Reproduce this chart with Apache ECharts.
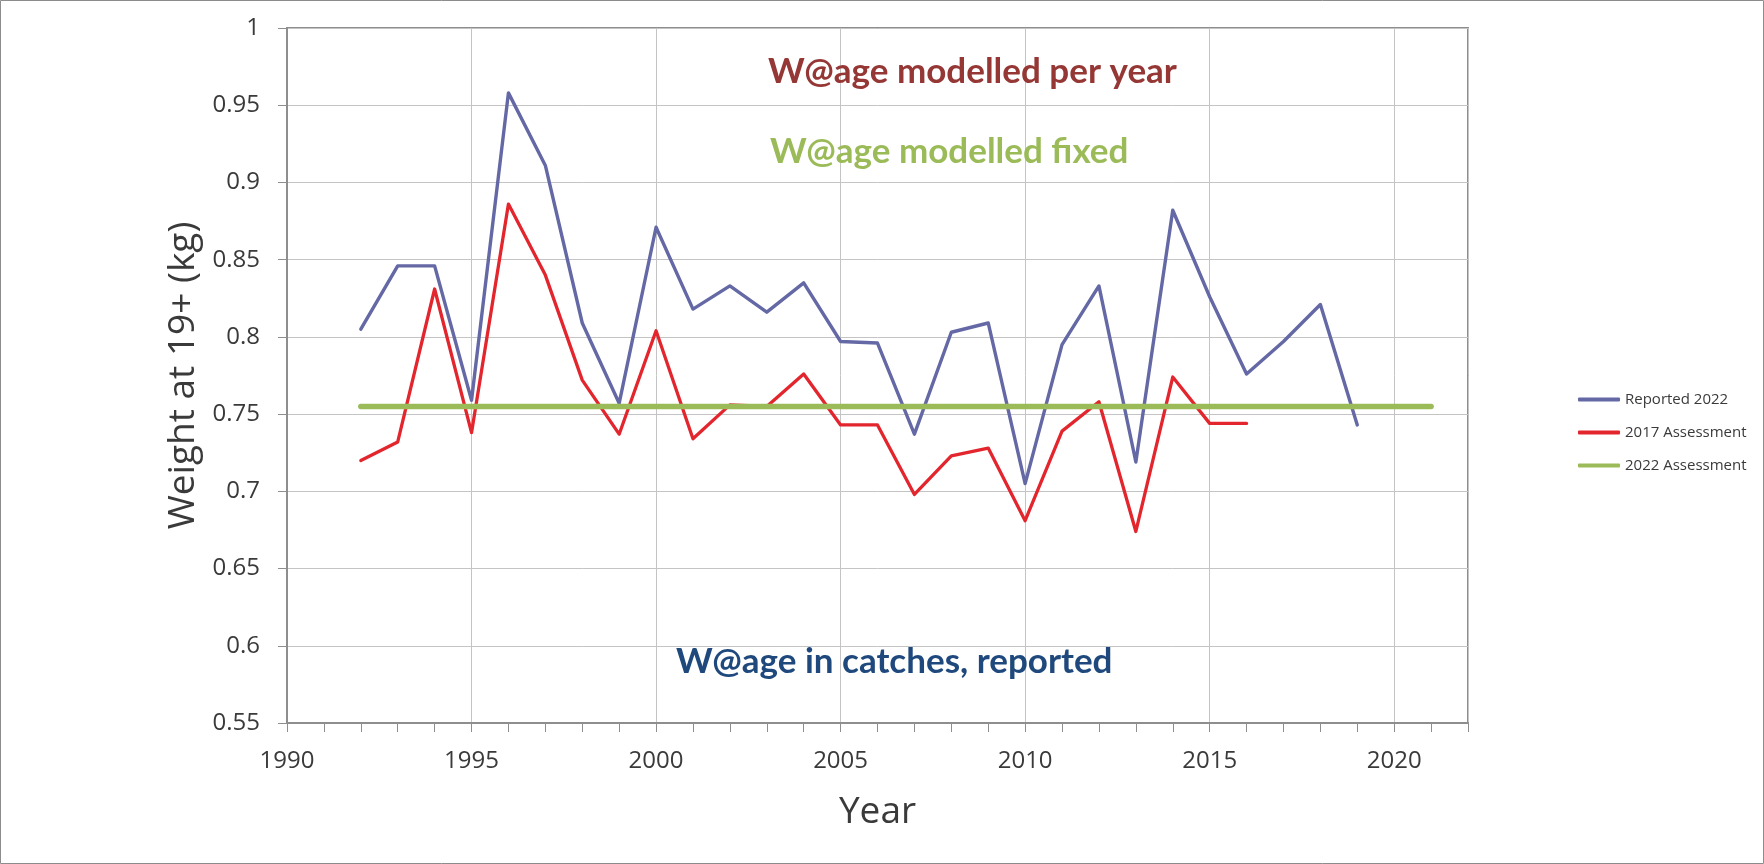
<!DOCTYPE html>
<html>
<head>
<meta charset="utf-8">
<script src="https://cdn.jsdelivr.net/npm/echarts@6/dist/echarts.min.js"></script>
<style>
html,body{margin:0;padding:0;background:#fff;}
#chart{width:1764px;height:864px;}
</style>
</head>
<body>
<div id="chart"></div>
<script>
// ---- data ----
const reportedYears = [1992,1993,1994,1995,1996,1997,1998,1999,2000,2001,2002,2003,2004,2005,2006,2007,2008,2009,2010,2011,2012,2013,2014,2015,2016,2017,2018,2019];
const reported2022 = [0.805,0.846,0.846,0.759,0.958,0.911,0.809,0.757,0.871,0.818,0.833,0.816,0.835,0.797,0.796,0.737,0.803,0.809,0.705,0.795,0.833,0.719,0.882,0.826,0.776,0.797,0.821,0.743];
const assess2017Years = [1992,1993,1994,1995,1996,1997,1998,1999,2000,2001,2002,2003,2004,2005,2006,2007,2008,2009,2010,2011,2012,2013,2014,2015,2016];
const assess2017 = [0.720,0.732,0.831,0.738,0.886,0.840,0.772,0.737,0.804,0.734,0.756,0.755,0.776,0.743,0.743,0.698,0.723,0.728,0.681,0.739,0.758,0.674,0.774,0.744,0.744];
const assess2022Years = [1992,2021];
const assess2022 = [0.755,0.755];
const seriesNames = ['Reported 2022','2017 Assessment','2022 Assessment'];
const annotations = ['W@age modelled per year','W@age modelled fixed','W@age in catches, reported'];
const xTitle = 'Year';
const yTitle = 'Weight at 19+ (kg)';

const pairs = (xs, ys) => xs.map((x, i) => [x, ys[i]]);

const chart = echarts.init(document.getElementById('chart'));
const gridColor = '#c4c4c4';
const axisColor = '#8e8e8e';
const textColor = '#3a3a3a';
const font = '"Open Sans", "DejaVu Sans", sans-serif';

chart.setOption({
  animation: false,
  backgroundColor: '#ffffff',
  grid: {left: 287, top: 28, width: 1181, height: 695, show: true, borderColor: axisColor, borderWidth: 2, backgroundColor: 'transparent'},
  legend: {
    orient: 'vertical', left: 1573, top: 387,
    icon: 'roundRect', itemWidth: 42, itemHeight: 4, itemGap: 18,
    textStyle: {fontFamily: font, fontSize: 15, color: textColor},
    data: seriesNames
  },
  xAxis: [{
    type: 'value', min: 1990, max: 2022, interval: 5,
    name: xTitle, nameLocation: 'middle', nameGap: 71,
    nameTextStyle: {fontFamily: font, fontSize: 37, color: textColor},
    axisLine: {show: true, lineStyle: {color: axisColor, width: 2}},
    axisTick: {show: false},
    axisLabel: {fontFamily: font, fontSize: 24, color: textColor, margin: 26, showMaxLabel: false,
      formatter: v => (v % 5 === 0 ? String(v) : '')},
    splitLine: {show: true, lineStyle: {color: gridColor, width: 1}}
  }, {
    type: 'value', min: 1990, max: 2022, interval: 1, position: 'bottom', gridIndex: 0,
    axisLine: {show: false},
    axisTick: {show: true, length: 9, lineStyle: {color: axisColor, width: 1}},
    axisLabel: {show: false},
    splitLine: {show: false}
  }],
  yAxis: {
    type: 'value', min: 0.55, max: 1, interval: 0.05,
    name: yTitle, nameLocation: 'middle', nameGap: 82, nameRotate: 90,
    nameTextStyle: {fontFamily: font, fontSize: 37, color: textColor},
    axisLine: {show: true, lineStyle: {color: axisColor, width: 2}},
    axisTick: {show: true, length: 9, lineStyle: {color: axisColor, width: 1}},
    axisLabel: {fontFamily: font, fontSize: 24, color: textColor, margin: 27,
      formatter: v => String(Math.round(v * 100) / 100)},
    splitLine: {show: true, lineStyle: {color: gridColor, width: 1}}
  },
  series: [{
    name: seriesNames[0], type: 'line', data: pairs(reportedYears, reported2022),
    showSymbol: false, symbol: 'none', color: '#6468a5', z: 2,
    lineStyle: {width: 3.4, color: '#6468a5', cap: 'round', join: 'round'}
  }, {
    name: seriesNames[1], type: 'line', data: pairs(assess2017Years, assess2017),
    showSymbol: false, symbol: 'none', color: '#e3262d', z: 3,
    lineStyle: {width: 3.3, color: '#e3262d', cap: 'round', join: 'round'}
  }, {
    name: seriesNames[2], type: 'line', data: pairs(assess2022Years, assess2022),
    showSymbol: false, symbol: 'none', color: '#9bbb59', z: 4,
    lineStyle: {width: 5.5, color: '#9bbb59', cap: 'round', join: 'round'}
  }],
  graphic: [
    {type: 'rect', silent: true, z: 100, shape: {x: 0.5, y: 0.5, width: 1763, height: 863},
      style: {fill: 'none', stroke: '#8c8c8c', lineWidth: 1}},
    {type: 'text', silent: true, z: 100, x: 768, y: 72,
      style: {text: annotations[0], font: 'bold 35px Lato, sans-serif', fill: '#953735', textVerticalAlign: 'middle'}},
    {type: 'text', silent: true, z: 100, x: 770, y: 152,
      style: {text: annotations[1], font: 'bold 35px Lato, sans-serif', fill: '#9bbb59', textVerticalAlign: 'middle'}},
    {type: 'text', silent: true, z: 100, x: 676, y: 662,
      style: {text: annotations[2], font: 'bold 35px Lato, sans-serif', fill: '#1f497d', textVerticalAlign: 'middle'}}
  ]
});
</script>
</body>
</html>
